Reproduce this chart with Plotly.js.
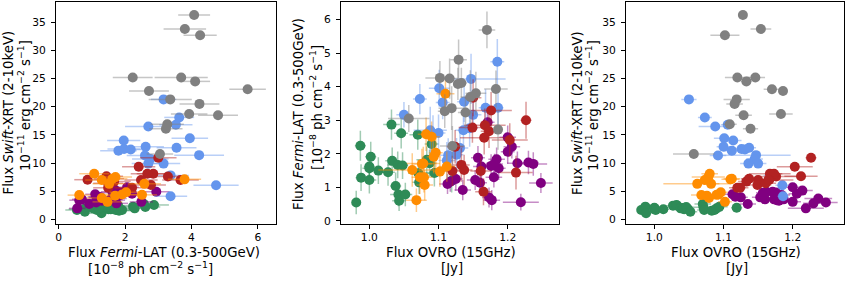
<!DOCTYPE html>
<html><head><meta charset="utf-8">
<script src="https://cdn.plot.ly/plotly-3.0.1.min.js"></script>
<style>html,body{margin:0;padding:0;background:#fff}#chart{width:847px;height:283px}</style>
</head><body><div id="chart"></div>
<script>
// ---- Green group ----
const greenFermi    = [0.55,2.24,1.29,1.22,1.62,1.57,1.91,1.50,1.45,2.87,1.79,1.04,1.67,0.79,0.60,2.61,1.65,0.79,2.57,1.42,1.15,1.82,1.72,2.29,1.43,1.20];
const greenFermiErr = [0.35,0.45,0.40,0.40,0.40,0.40,0.45,0.40,0.40,0.45,0.40,0.40,0.40,0.35,0.30,0.45,0.40,0.35,0.45,0.40,0.35,0.40,0.40,0.45,0.40,0.35];
const greenSwift    = [1.66,2.25,1.07,1.95,2.05,1.80,1.66,1.78,2.43,2.55,2.43,1.95,2.00,1.90,1.80,2.20,1.90,1.36,2.72,2.13,1.66,1.54,1.66,1.95,2.25,2.07];
const greenSwiftErr = [0.20,0.25,0.20,0.20,0.25,0.20,0.20,0.20,0.25,0.30,0.25,0.20,0.20,0.20,0.20,0.25,0.20,0.20,0.30,0.25,0.20,0.20,0.20,0.25,0.25,0.20];
const greenOvro     = [0.981,0.987,0.988,1.000,1.000,1.000,1.002,1.013,1.027,1.032,1.033,1.038,1.041,1.042,1.043,1.046,1.048,1.052,1.070,1.071,1.072,1.083,1.087,1.090,1.094,1.119];
const greenOvroErr  = [0.006,0.008,0.008,0.010,0.008,0.010,0.008,0.008,0.010,0.012,0.010,0.008,0.015,0.012,0.010,0.010,0.008,0.010,0.012,0.015,0.010,0.015,0.010,0.010,0.012,0.008];
// ---- Purple group ----
const purpleFermi    = [2.94,2.49,2.21,2.06,1.72,1.88,1.84,1.70,1.64,1.74,1.70,1.13,1.62,1.57,1.17,1.10,1.25,1.22,1.14,0.92,0.70,0.62,0.56,1.30];
const purpleFermiErr = [0.40,0.35,0.35,0.35,0.35,0.35,0.35,0.30,0.35,0.35,0.35,0.30,0.35,0.35,0.30,0.30,0.35,0.30,0.30,0.30,0.30,0.30,0.25,0.30];
const purpleSwift    = [4.9,3.1,4.55,5.7,5.1,4.7,4.3,3.4,4.75,2.84,3.7,3.0,4.9,3.55,4.0,4.45,3.9,3.9,3.55,2.72,3.55,3.4,1.95,3.3];
const purpleSwiftErr = [0.30,0.25,0.30,0.35,0.30,0.30,0.30,0.25,0.30,0.25,0.25,0.25,0.30,0.25,0.30,0.30,0.25,0.25,0.25,0.20,0.25,0.25,0.20,0.25];
const purpleOvro     = [1.171,1.200,1.206,1.200,1.214,1.157,1.184,1.181,1.176,1.230,1.237,1.248,1.162,1.187,1.117,1.113,1.125,1.153,1.160,1.135,1.173,1.177,1.219,1.180];
const purpleOvroErr  = [0.010,0.012,0.012,0.010,0.015,0.010,0.012,0.012,0.010,0.015,0.020,0.017,0.012,0.010,0.010,0.012,0.010,0.012,0.010,0.012,0.010,0.012,0.026,0.012];
// ---- Blue group ----
const blueFermi    = [3.16,3.63,2.70,3.53,1.96,3.95,2.62,1.80,1.97,2.17,3.55,2.60,4.23,2.76,2.70,3.16,3.37,4.74,3.37];
const blueFermiErr = [0.38,0.45,0.70,0.50,0.50,0.55,0.55,0.55,0.50,0.50,0.60,0.55,0.75,0.55,0.50,0.50,0.55,0.68,0.50];
const blueSwift    = [21.3,18.1,16.5,16.8,14.0,14.4,12.9,12.2,12.5,12.4,12.7,11.35,11.4,10.7,9.9,9.9,7.8,6.05,4.1];
const blueSwiftErr = [0.6,0.5,0.5,0.5,0.45,0.45,0.4,0.4,0.4,0.4,0.4,0.4,0.4,0.35,0.35,0.35,0.3,0.3,0.25];
const blueOvro     = [1.050,1.073,1.088,1.106,1.114,1.101,1.100,1.112,1.126,1.131,1.137,1.092,1.147,1.145,1.136,1.150,1.168,1.185,1.186];
const blueOvroErr  = [0.011,0.010,0.024,0.010,0.012,0.015,0.010,0.012,0.010,0.012,0.010,0.012,0.050,0.012,0.012,0.012,0.010,0.010,0.008];
// ---- Red group ----
const redFermi    = [3.00,2.41,1.44,3.29,3.67,2.85,2.67,2.48,2.78,1.67,1.52,1.49,1.49,0.87,2.21];
const redFermiErr = [0.55,0.50,0.50,0.55,0.55,0.50,0.50,0.50,0.45,0.50,0.45,0.45,0.45,0.40,0.50];
const redSwift    = [10.95,9.35,7.65,7.6,7.0,8.1,8.1,7.0,6.1,6.7,7.2,5.6,6.4,7.04,5.6];
const redSwiftErr = [0.45,0.4,0.35,0.35,0.35,0.35,0.35,0.35,0.3,0.3,0.35,0.3,0.3,0.35,0.3];
const redOvro     = [1.2265,1.203,1.212,1.176,1.150,1.167,1.173,1.166,1.149,1.133,1.137,1.120,1.161,1.165,1.124];
const redOvroErr  = [0.008,0.026,0.024,0.030,0.012,0.030,0.012,0.035,0.020,0.012,0.012,0.012,0.015,0.012,0.012];
// ---- Orange group ----
const orangeFermi    = [3.79,2.58,2.51,2.03,1.91,1.70,1.71,1.07,1.62,1.30,1.52,0.62,1.30,1.47];
const orangeFermiErr = [0.50,0.50,0.45,0.50,0.50,0.45,0.50,0.45,0.45,0.50,0.50,0.35,0.45,0.45];
const orangeSwift    = [7.1,6.3,4.35,4.8,4.4,4.2,7.5,8.1,7.2,7.0,6.3,4.3,3.8,3.1];
const orangeSwiftErr = [0.35,0.3,0.25,0.3,0.25,0.25,0.35,0.4,0.35,0.35,0.3,0.25,0.25,0.2];
const orangeOvro     = [1.110,1.082,1.090,1.096,1.093,1.076,1.078,1.080,1.112,1.073,1.062,1.068,1.079,1.102];
const orangeOvroErr  = [0.013,0.012,0.012,0.010,0.010,0.015,0.024,0.012,0.012,0.012,0.049,0.015,0.012,0.010];
// ---- Gray group ----
const grayFermi    = [4.08,3.80,4.26,2.23,3.69,4.11,2.72,5.69,3.36,4.24,3.93,4.80,3.27,3.23,3.05];
const grayFermiErr = [0.48,0.64,0.50,0.60,0.80,0.45,0.60,0.55,0.65,0.60,0.55,0.60,0.50,0.50,0.40];
const graySwift    = [36.3,33.8,32.7,25.2,25.2,24.5,22.8,23.1,21.3,20.5,18.7,18.5,16.9,16.1,11.6];
const graySwiftErr = [0.8,0.8,0.7,0.6,0.6,0.6,0.6,0.6,0.55,0.55,0.5,0.5,0.5,0.45,0.4];
const grayOvro     = [1.128,1.154,1.102,1.120,1.146,1.133,1.186,1.170,1.119,1.116,1.183,1.129,1.109,1.139,1.057];
const grayOvroErr  = [0.005,0.015,0.021,0.018,0.014,0.008,0.006,0.012,0.019,0.012,0.017,0.012,0.010,0.011,0.030];

const groups = [
  {c:'#2e8b57', e:'rgba(46,139,87,0.45)',  F:greenFermi,  Fe:greenFermiErr,  S:greenSwift,  Se:greenSwiftErr,  O:greenOvro,  Oe:greenOvroErr},
  {c:'#800080', e:'rgba(128,0,128,0.45)',  F:purpleFermi, Fe:purpleFermiErr, S:purpleSwift, Se:purpleSwiftErr, O:purpleOvro, Oe:purpleOvroErr},
  {c:'#6495ed', e:'rgba(100,149,237,0.45)',F:blueFermi,   Fe:blueFermiErr,   S:blueSwift,   Se:blueSwiftErr,   O:blueOvro,   Oe:blueOvroErr},
  {c:'#b22222', e:'rgba(178,34,34,0.45)',  F:redFermi,    Fe:redFermiErr,    S:redSwift,    Se:redSwiftErr,    O:redOvro,    Oe:redOvroErr},
  {c:'#ff8c00', e:'rgba(255,140,0,0.45)',  F:orangeFermi, Fe:orangeFermiErr, S:orangeSwift, Se:orangeSwiftErr, O:orangeOvro, Oe:orangeOvroErr},
  {c:'#808080', e:'rgba(128,128,128,0.45)',F:grayFermi,   Fe:grayFermiErr,   S:graySwift,   Se:graySwiftErr,   O:grayOvro,   Oe:grayOvroErr}
];

const traces = [];
function mk(g, x, xe, y, ye, xa, ya){
  return {type:'scatter', mode:'markers', x:x, y:y, xaxis:xa, yaxis:ya,
    marker:{color:g.c, size:10, line:{width:0}},
    error_x:{type:'data', array:xe, visible:true, color:g.e, thickness:1.5, width:0},
    error_y:{type:'data', array:ye, visible:true, color:g.e, thickness:1.5, width:0},
    hoverinfo:'skip', showlegend:false};
}
groups.forEach(g=>{ traces.push(mk(g, g.F, g.Fe, g.S, g.Se, 'x', 'y')); });
groups.forEach(g=>{ traces.push(mk(g, g.O, g.Oe, g.F, g.Fe, 'x2', 'y2')); });
groups.forEach(g=>{ traces.push(mk(g, g.O, g.Oe, g.S, g.Se, 'x3', 'y3')); });

const FONT = 'DejaVu Sans, sans-serif';
const W = 847, TOP = 2, BOT = 224;
const px = v => v / W;
const py = v => (BOT - v) / (BOT - TOP);
const axBase = {showline:true, mirror:true, linecolor:'#000', linewidth:1, ticks:'outside', ticklen:4, tickwidth:1,
  tickcolor:'#000', showgrid:false, zeroline:false, automargin:false,
  tickfont:{family:FONT, size:10.7, color:'#000'}};
const xBase = Object.assign({}, axBase, {ticklabelstandoff:-1});
const yBase = Object.assign({}, axBase, {ticklabelstandoff:3});

const swiftL1 = 'Flux <i>Swift</i>-XRT (2-10keV)';
const swiftL2 = '10<sup>−11</sup> erg cm<sup>−2</sup> s<sup>−1</sup>]';
const fermiL1 = 'Flux <i>Fermi</i>-LAT (0.3-500GeV)';
const fermiL2 = '[10<sup>−8</sup> ph cm<sup>−2</sup> s<sup>−1</sup>]';
const ovroL1 = 'Flux OVRO (15GHz)';
const ovroL2 = '[Jy]';

function ann(text, x, y, rot){
  return {text:text, xref:'paper', yref:'paper', x:px(x), y:py(y), showarrow:false,
    xanchor:'center', yanchor:'middle', textangle:rot?-90:0, font:{family:FONT, size:13.3, color:'#000'}};
}
const annotations = [
  ann(swiftL1, 7.5, 113, true), ann(swiftL2, 24, 106, true),
  ann(fermiL1, 164, 252), ann(fermiL2, 150, 268),
  ann(fermiL1, 299, 114, true), ann(fermiL2, 316, 108, true),
  ann(ovroL1, 451, 252), ann(ovroL2, 452, 268),
  ann(swiftL1, 577, 113, true), ann(swiftL2, 592, 106, true),
  ann(ovroL1, 736, 252), ann(ovroL2, 737, 268)
];

const layout = {
  width:847, height:283, margin:{l:0, r:0, t:TOP, b:283-BOT}, paper_bgcolor:'#fff', plot_bgcolor:'#fff',
  showlegend:false, font:{family:FONT, color:'#000'}, annotations:annotations,
  xaxis:Object.assign({}, xBase, {domain:[px(56), px(276)], range:[-0.08, 6.545], tickvals:[0,2,4,6], anchor:'y'}),
  yaxis:Object.assign({}, yBase, {domain:[0,1], range:[-0.83, 38.6], tickvals:[0,5,10,15,20,25,30,35], anchor:'x'}),
  xaxis2:Object.assign({}, xBase, {domain:[px(341), px(559.3)], range:[0.959, 1.2746], tickvals:[1.0,1.1,1.2], ticktext:['1.0','1.1','1.2'], anchor:'y2'}),
  yaxis2:Object.assign({}, yBase, {domain:[0,1], range:[-0.09, 6.52], tickvals:[0,1,2,3,4,5,6], anchor:'x2'}),
  xaxis3:Object.assign({}, xBase, {domain:[px(626), px(844.3)], range:[0.959, 1.2746], tickvals:[1.0,1.1,1.2], ticktext:['1.0','1.1','1.2'], anchor:'y3'}),
  yaxis3:Object.assign({}, yBase, {domain:[0,1], range:[-0.83, 38.6], tickvals:[0,5,10,15,20,25,30,35], anchor:'x3'})
};

Plotly.newPlot('chart', traces, layout, {staticPlot:true, displayModeBar:false});
</script>
</body></html>
